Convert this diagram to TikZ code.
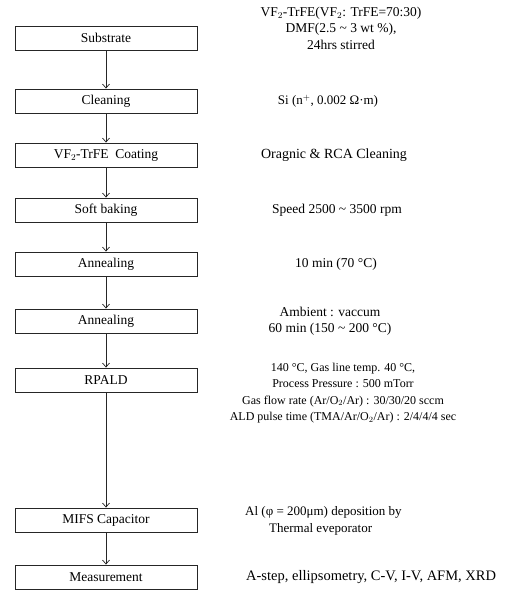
\documentclass[tikz,border=0pt]{standalone}
\usepackage{fontspec}
\setmainfont{Liberation Serif}
\usetikzlibrary{arrows.meta,positioning}
\tikzset{
  stepbox/.style={draw=black!85,line width=0.9pt,minimum width=182pt,minimum height=24pt,inner sep=0pt,font=\fontsize{13.5}{15}\selectfont},
  note/.style   ={align=center,inner sep=0pt,font=\fontsize{13.5}{16.5}\selectfont},
  ar/.style     ={draw=black!85,line width=0.7pt,-{Straight Barb[length=4pt,width=7pt]}},
}
\begin{document}
\begin{tikzpicture}[x=1pt,y=-1pt]
  \useasboundingbox (0,0) rectangle (521,598);
  % process steps
  \foreach \y/\n/\t in {38/s1/Substrate,101/s2/Cleaning,155/s3/VF$_2$-TrFE~ Coating,
      210/s4/Soft baking,264/s5/Annealing,321/s6/Annealing,380/s7/RPALD,
      520/s8/MIFS Capacitor,577/s9/Measurement}{
    \node[stepbox] (\n) at (106,\y) {\t};
  }
  \draw[ar] (s1) -- (s2);
  \draw[ar] (s2) -- (s3);
  \draw[ar] (s3) -- (s4);
  \draw[ar] (s4) -- (s5);
  \draw[ar] (s5) -- (s6);
  \draw[ar] (s6) -- (s7);
  \draw[ar] (s7) -- (s8);
  \draw[ar] (s8) -- (s9);
  % conditions
  \node[note] (n1) at (341,28) {VF$_2$-TrFE(VF$_2$: TrFE=70:30)\\DMF(2.5 \textasciitilde{} 3 wt \%),\\24hrs stirred};
  \node[note,font=\fontsize{13}{16}\selectfont] (n2) at (328,101) {Si (n$^{+}$, 0.002 Ω·m)};
  \node[note,font=\fontsize{14}{16}\selectfont] (n3) at (334,155) {Oragnic \& RCA Cleaning};
  \node[note] (n4) at (337,210) {Speed 2500 \textasciitilde{} 3500 rpm};
  \node[note] (n5) at (336,264) {10 min (70 °C)};
  \node[note] (n6) at (330,321) {Ambient : vaccum\\60 min (150 \textasciitilde{} 200 °C)};
  \node[note,font=\fontsize{12}{16.5}\selectfont] (n7) at (343,393) {140 °C, Gas line temp. 40 °C,\\Process Pressure : 500 mTorr\\Gas flow rate (Ar/O$_2$/Ar) : 30/30/20 sccm\\ALD pulse time (TMA/Ar/O$_2$/Ar) : 2/4/4/4 sec};
  \node[note,align=left,anchor=west,font=\fontsize{13}{17}\selectfont] (n8) at (245,521) {Al (φ = 200μm) deposition by\\\hspace{24pt}Thermal eveporator};
  \node[note,anchor=west,font=\fontsize{14.5}{16}\selectfont] (n9) at (246,577) {A-step, ellipsometry, C-V, I-V, AFM, XRD};
\end{tikzpicture}
\end{document}
